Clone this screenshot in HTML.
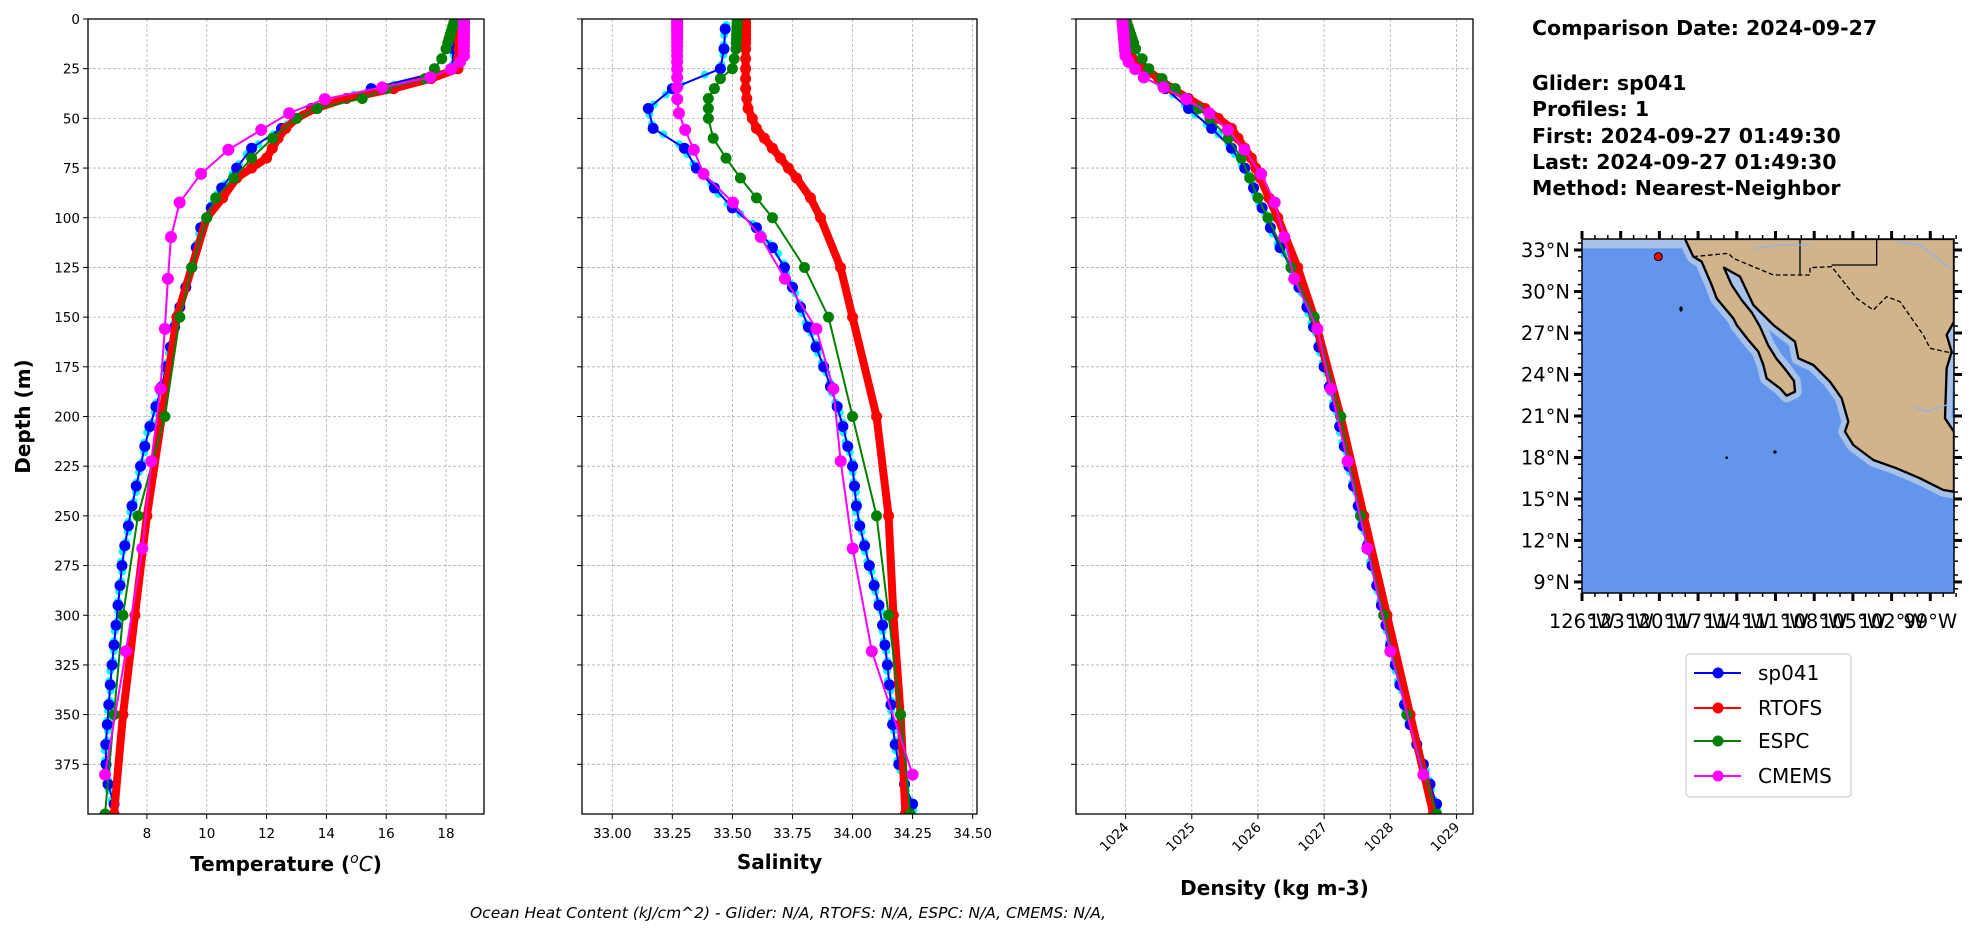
<!DOCTYPE html>
<html><head><meta charset="utf-8">
<style>
html,body{margin:0;padding:0;background:#fff;}
svg{display:block;font-family:"DejaVu Sans","Liberation Sans",sans-serif;}
</style></head>
<body>
<svg id="s" width="1978" height="934" xmlns="http://www.w3.org/2000/svg"></svg>
<script>
const S=document.getElementById('s');
let h='';
const Y0=19,Y1=814;
const yd=d=>Y0+(Y1-Y0)*d/400;
const P=[
 {x0:88,x1:484,a:6.03,b:19.27,ticks:[8,10,12,14,16,18],fmt:v=>v},
 {x0:582,x1:977,a:32.874,b:34.518,ticks:[33,33.25,33.5,33.75,34,34.25,34.5],fmt:v=>v.toFixed(2)},
 {x0:1076,x1:1473,a:1023.25,b:1029.25,ticks:[1024,1025,1026,1027,1028,1029],fmt:v=>v}
];
function interp(pts,d){
 if(d<=pts[0][0])return pts[0][1];
 for(let i=1;i<pts.length;i++){if(d<=pts[i][0]){const [d0,v0]=pts[i-1],[d1,v1]=pts[i];return v0+(v1-v0)*(d-d0)/(d1-d0);}}
 return pts[pts.length-1][1];
}
// data
const D={
 T:{
  g:[[5,18.3],[25,18.2],[30,17.5],[35,15.5],[45,13.5],[55,12.5],[65,11.5],[85,10.5],[105,9.8],[125,9.5],[150,9.0],[185,8.5],[210,8.0],[245,7.5],[270,7.2],[300,7.0],[330,6.8],[370,6.6],[385,6.7],[395,6.9]],
  r:[[0,18.5],[25,18.4],[30,17.5],[36,16],[42,14],[50,13],[57,12.5],[70,12],[80,11],[95,10.3],[100,10],[125,9.5],[150,9.0],[175,8.7],[200,8.5],[250,8.0],[300,7.6],[350,7.2],[400,6.9]],
  e:[[0,18.3],[15,18],[22,17.8],[30,17.3],[35,16],[40,15.2],[45,13.7],[50,13],[60,12.2],[70,11.5],[80,10.9],[90,10.3],[100,10],[125,9.5],[150,9.1],[200,8.6],[250,7.7],[300,7.2],[350,6.9],[400,6.6]],
  c:[[0,18.6],[20,18.6],[25,18.2],[29,17.6],[34,16],[40,14],[47,12.8],[56,11.8],[66,10.7],[78,9.8],[92,9.1],[110,8.8],[131,8.7],[156,8.6],[186,8.45],[222,8.15],[266,7.85],[318,7.3],[380,6.6]]
 },
 S:{
  g:[[5,33.47],[15,33.465],[25,33.45],[35,33.25],[45,33.15],[55,33.17],[65,33.3],[75,33.35],[95,33.5],[105,33.6],[120,33.7],[150,33.8],[175,33.88],[200,33.95],[225,34.0],[250,34.02],[280,34.08],[300,34.12],[330,34.15],[360,34.17],[380,34.2],[395,34.25]],
  r:[[0,33.555],[35,33.555],[45,33.565],[55,33.6],[70,33.7],[85,33.8],[95,33.85],[110,33.9],[125,33.95],[150,34.0],[175,34.05],[200,34.1],[250,34.15],[300,34.17],[350,34.2],[400,34.22]],
  e:[[0,33.52],[15,33.515],[25,33.5],[30,33.45],[40,33.4],[50,33.4],[60,33.42],[75,33.5],[90,33.6],[105,33.7],[125,33.8],[150,33.9],[200,34.0],[250,34.1],[300,34.15],[350,34.2],[400,34.24]],
  c:[[0,33.27],[40,33.27],[50,33.28],[60,33.32],[78,33.38],[92,33.5],[110,33.62],[131,33.72],[156,33.85],[186,33.92],[222,33.95],[266,34.0],[318,34.08],[380,34.25]]
 },
 R:{
  g:[[5,1024.0],[15,1024.05],[25,1024.3],[35,1024.6],[45,1024.95],[55,1025.3],[65,1025.6],[75,1025.8],[90,1026.0],[110,1026.25],[125,1026.5],[150,1026.8],[200,1027.2],[250,1027.55],[300,1027.9],[350,1028.25],[395,1028.7]],
  r:[[0,1024.0],[20,1024.1],[35,1024.7],[45,1025.2],[55,1025.6],[70,1025.9],[85,1026.1],[100,1026.3],[125,1026.6],[150,1026.85],[200,1027.25],[250,1027.6],[300,1027.95],[350,1028.3],[400,1028.65]],
  e:[[0,1024.0],[15,1024.15],[25,1024.35],[35,1024.75],[45,1025.1],[55,1025.45],[70,1025.75],[90,1026.0],[100,1026.15],[125,1026.5],[150,1026.85],[200,1027.25],[250,1027.55],[300,1027.9],[350,1028.25],[400,1028.7]],
  c:[[0,1023.95],[20,1024.0],[29,1024.25],[34,1024.55],[40,1024.9],[47,1025.25],[56,1025.55],[66,1025.8],[78,1026.05],[92,1026.25],[110,1026.4],[131,1026.55],[156,1026.9],[186,1027.1],[222,1027.35],[266,1027.65],[318,1028.0],[380,1028.5]]
 }
};
const gD=[];for(let d=5;d<=395;d+=10)gD.push(d);
const rD=[0,2,4,6,8,10,12,15,20,25,30,35,40,45,50,55,60,65,70,75,80,90,100,125,150,200,250,300,350,400];
const eD=[0,2,4,6,8,10,12,15,20,25,30,35,40,45,50,60,70,80,90,100,125,150,200,250,300,350,400];
const cD=[0.5,1.5,2.6,3.8,5,6.4,7.9,9.6,11.4,13.5,15.8,18.5,21.6,25.2,29.4,34.4,40.3,47.4,55.8,65.8,77.9,92.3,109.7,130.7,155.9,186.1,222.5,266.4,318.1,380.2];
const keys=['T','S','R'];
// axes/grid
P.forEach((p,i)=>{
 const xv=v=>p.x0+(p.x1-p.x0)*(v-p.a)/(p.b-p.a);
 h+=`<g stroke="#b0b0b0" stroke-width="0.8" stroke-dasharray="3,2">`;
 p.ticks.forEach(t=>{const x=xv(t);h+=`<line x1="${x}" y1="${Y0}" x2="${x}" y2="${Y1}"/>`;});
 for(let d=0;d<=375;d+=25){const y=yd(d);h+=`<line x1="${p.x0}" y1="${y}" x2="${p.x1}" y2="${y}"/>`;}
 h+=`</g>`;
 // series
 h+=`<svg x="${p.x0}" y="${Y0}" width="${p.x1-p.x0}" height="${Y1-Y0}" overflow="hidden"><g transform="translate(${-p.x0},${-Y0})">`;
 const dat=D[keys[i]];
 const jit=[0.6,-0.4,0.3,-0.7,0.5,-0.2];
 // cyan
 const span=(p.b-p.a);
 gD.forEach((d,k)=>{for(let j=0;j<2;j++){const dd=d+j*5-2;const v=interp(dat.g,dd)+span*0.004*jit[(k+j)%6];h+=`<circle cx="${xv(v)}" cy="${yd(dd)}" r="4" fill="#00ffff"/>`;}});
 const series=[['g',gD,'#0000ff',2,5.5],['r',rD,'#ff0000',8,5.5],['e',eD,'#008000',2,5.5],['c',cD,'#ff00ff',2,6]];
 series.forEach(([k,ds,col,lw,r])=>{
  const pts=ds.map(d=>[xv(interp(dat[k],d)),yd(d)]);
  h+=`<polyline fill="none" stroke="${col}" stroke-width="${lw}" stroke-linejoin="round" points="${pts.map(q=>q.join(',')).join(' ')}"/>`;
  pts.forEach(q=>h+=`<circle cx="${q[0]}" cy="${q[1]}" r="${r}" fill="${col}"/>`);
 });
 h+=`</g></svg>`;
 h+=`<rect x="${p.x0}" y="${Y0}" width="${p.x1-p.x0}" height="${Y1-Y0}" fill="none" stroke="#000" stroke-width="1.3"/>`;
 // ticks
 p.ticks.forEach(t=>{const x=xv(t);h+=`<line x1="${x}" y1="${Y1}" x2="${x}" y2="${Y1+5}" stroke="#000" stroke-width="1"/>`;
  if(i<2)h+=`<text x="${x}" y="${Y1+24}" font-size="13.5" text-anchor="middle">${p.fmt(t)}</text>`;
  else h+=`<text transform="translate(${x+4},${Y1+14}) rotate(-45)" font-size="13.5" text-anchor="end">${t}</text>`;});
 for(let d=0;d<=375;d+=25){const y=yd(d);h+=`<line x1="${p.x0-5}" y1="${y}" x2="${p.x0}" y2="${y}" stroke="#000"/>`;
  if(i==0)h+=`<text x="${p.x0-8}" y="${y+5}" font-size="13.5" text-anchor="end">${d}</text>`;}
});
h+=`<text x="${(88+484)/2}" y="871" font-size="20" font-weight="bold" text-anchor="middle">Temperature (<tspan font-style="italic" font-weight="normal" baseline-shift="super" font-size="14">o</tspan><tspan font-style="italic" font-weight="normal">C</tspan>)</text>`;
h+=`<text x="${(582+977)/2}" y="869" font-size="20" font-weight="bold" text-anchor="middle">Salinity</text>`;
h+=`<text x="${(1076+1473)/2}" y="895" font-size="20" font-weight="bold" text-anchor="middle">Density (kg m-3)</text>`;
h+=`<text transform="translate(30,${(Y0+Y1)/2}) rotate(-90)" font-size="20" font-weight="bold" text-anchor="middle">Depth (m)</text>`;
h+=`<text x="788" y="918" font-size="15.5" font-style="italic" text-anchor="middle">Ocean Heat Content (kJ/cm^2) - Glider: N/A,  RTOFS: N/A,  ESPC: N/A,  CMEMS: N/A,</text>`;
// info text
const info=[[35,'Comparison Date: 2024-09-27'],[90,'Glider: sp041'],[116,'Profiles: 1'],[143,'First: 2024-09-27 01:49:30'],[169,'Last: 2024-09-27 01:49:30'],[195,'Method: Nearest-Neighbor']];
info.forEach(([y,t])=>h+=`<text x="1532" y="${y}" font-size="20.5" font-weight="bold" xml:space="preserve">${t}</text>`);
// map
h+=`<svg x="1582" y="239" width="372" height="354" overflow="hidden"><g transform="translate(-1582,-239)"><rect x="1582" y="239" width="372" height="354" fill="#6495ed"/>`;
h+=`<g transform="translate(1520,225) scale(0.33333)">`;
h+=`<rect x="187" y="42" width="320" height="28" fill="#a7c1e8"/>`;
const land="495,42 520,95 545,110 575,180 590,220 640,280 650,300 685,345 715,380 730,420 740,460 780,490 800,512 825,500 822,468 795,432 770,402 745,362 720,305 695,262 665,225 635,180 612,128 660,155 700,240 760,300 825,350 835,400 880,420 930,470 965,520 985,590 975,620 1000,660 1060,705 1130,730 1200,760 1270,795 1302,800 1302,620 1275,580 1280,430 1295,380 1280,330 1302,290 1302,42";
h+=`<polygon points="${land}" fill="none" stroke="#a7c1e8" stroke-width="40" stroke-linejoin="round"/>`;
h+=`<polygon points="${land}" fill="#d2b48c" stroke="#000" stroke-width="7" stroke-linejoin="round"/>`;
h+=`<rect x="1300" y="30" width="30" height="800" fill="#6495ed"/>`;
h+=`<polyline points="520,95 625,85 640,100 760,150 870,150 870,128 935,125 1010,220 1060,255 1100,215 1140,230 1210,330 1230,370 1300,385" fill="none" stroke="#000" stroke-width="4" stroke-dasharray="14,8"/>`;
h+=`<polyline points="840,30 840,150 M0,0" fill="none" stroke="#000" stroke-width="4"/>`;
h+=`<polyline points="935,120 1070,120 1070,30" fill="none" stroke="#000" stroke-width="4"/>`;
h+=`<polyline points="700,70 780,60 870,60" fill="none" stroke="#8fb3e8" stroke-width="4"/>`;
h+=`<polyline points="1130,50 1200,60 1290,130" fill="none" stroke="#8fb3e8" stroke-width="4"/>`;
h+=`<polyline points="1180,545 1220,560 1280,540" fill="none" stroke="#8fb3e8" stroke-width="4"/>`;
h+=`<circle cx="765" cy="681" r="5" fill="#000"/><circle cx="620" cy="698" r="4" fill="#000"/><ellipse cx="483" cy="252" rx="5" ry="8" fill="#000"/>`;
h+=`<circle cx="415" cy="95" r="12" fill="#ff0000" stroke="#000" stroke-width="3"/>`;
h+=`</g></g></svg>`;
h+=`<rect x="1582" y="239" width="372" height="354" fill="none" stroke="#000" stroke-width="1.5"/>`;
for(let lat=9;lat<=33;lat+=3){const y=250+(33-lat)*13.83;
 h+=`<line x1="1574" y1="${y}" x2="1582" y2="${y}" stroke="#000" stroke-width="3"/><line x1="1954" y1="${y}" x2="1962" y2="${y}" stroke="#000" stroke-width="3"/>`;
 h+=`<text x="1570" y="${y+7}" font-size="19.5" text-anchor="end">${lat}°N</text>`;}
for(let lat=8.5;lat<=33.8;lat+=1){const y=250+(33-lat)*13.83;h+=`<line x1="1578" y1="${y}" x2="1582" y2="${y}" stroke="#000" stroke-width="1.5"/><line x1="1954" y1="${y}" x2="1958" y2="${y}" stroke="#000" stroke-width="1.5"/>`;}
for(let L=126;L>=99;L-=3){const x=1582+(126-L)*12.9;
 h+=`<line x1="${x}" y1="593" x2="${x}" y2="601" stroke="#000" stroke-width="3"/><line x1="${x}" y1="231" x2="${x}" y2="239" stroke="#000" stroke-width="3"/>`;
 h+=`<text x="${x}" y="628" font-size="19.5" text-anchor="middle">${L}°W</text>`;}
for(let L=126;L>=97;L-=1){const x=1582+(126-L)*12.9;h+=`<line x1="${x}" y1="593" x2="${x}" y2="597" stroke="#000" stroke-width="1.5"/><line x1="${x}" y1="235" x2="${x}" y2="239" stroke="#000" stroke-width="1.5"/>`;}
// legend
h+=`<rect x="1686" y="654" width="165" height="143" rx="4" fill="#fff" stroke="#d0d0d0" stroke-width="1.2"/>`;
[[673,'#0000ff','sp041'],[708,'#ff0000','RTOFS'],[741,'#008000','ESPC'],[776,'#ff00ff','CMEMS']].forEach(([y,c,t])=>{
 h+=`<line x1="1694" y1="${y}" x2="1741" y2="${y}" stroke="${c}" stroke-width="2"/><circle cx="1718" cy="${y}" r="5.5" fill="${c}"/>`;
 h+=`<text x="1758" y="${y+7}" font-size="20">${t}</text>`;});
S.innerHTML=h;
</script>
</body></html>
